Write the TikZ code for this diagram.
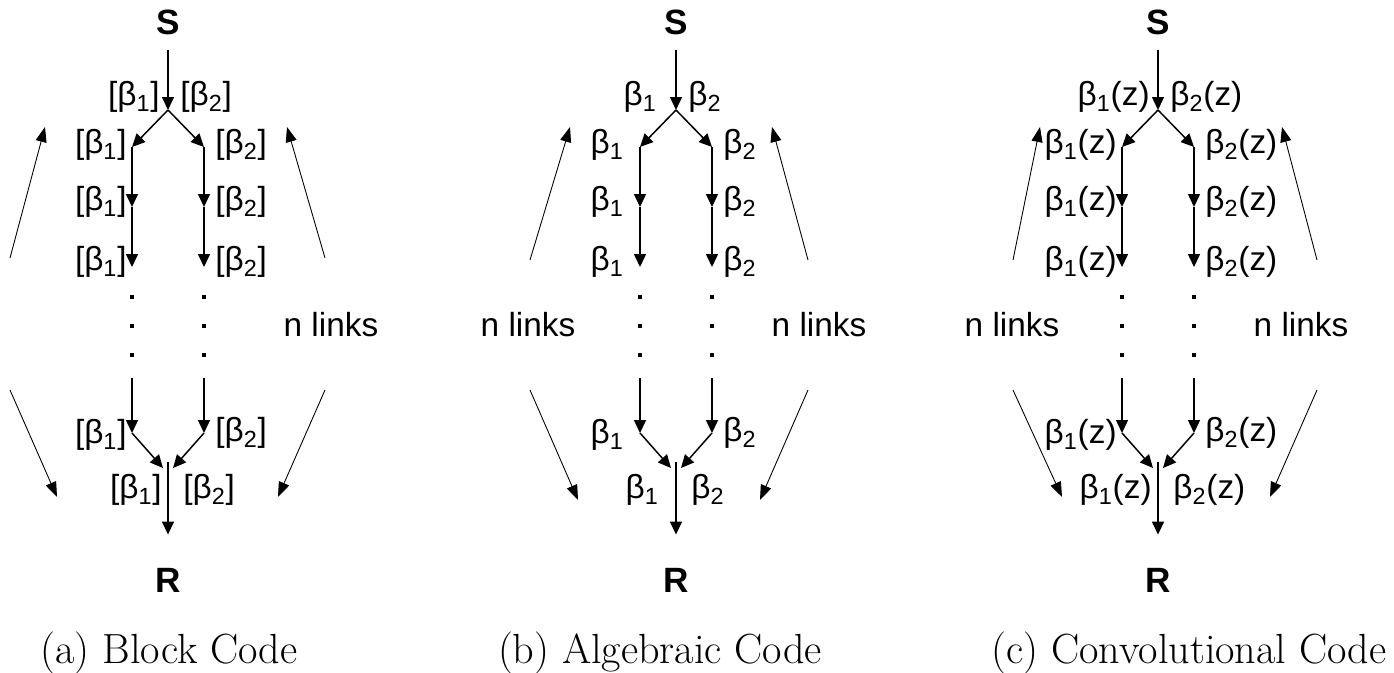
\documentclass[tikz,border=0pt]{standalone}
\usepackage{fontspec}
\setsansfont{Liberation Sans}
\usepackage{tikz}
\usetikzlibrary{arrows.meta}
\newcommand{\bone}{β\textsubscript{1}}
\newcommand{\btwo}{β\textsubscript{2}}
\tikzset{
  link/.style={-{Triangle[length=0.26cm,width=0.24cm]}, line width=0.85pt},
  side/.style={-{Triangle[length=0.3cm,width=0.22cm]}, line width=0.5pt},
  endnode/.style={font=\sffamily\bfseries\fontsize{20}{24}\selectfont, inner sep=0.3cm},
  coef/.style={font=\sffamily\fontsize{19}{23}\selectfont, inner sep=0pt},
  nlinks/.style={font=\sffamily\fontsize{19}{23}\selectfont, inner sep=0pt},
  dot/.style={fill, inner sep=0pt, minimum size=0.07cm},
  caption/.style={font=\fontsize{24}{28}\selectfont, anchor=base, inner sep=0pt},
}
\begin{document}
\begin{tikzpicture}[x=0.02cm, y=-0.02cm]
  \useasboundingbox (0,0) rectangle (1394,673);

  % The two branches S -> R, one per code
  \foreach \p/\cx/\one/\two/\gap in {a/168/{[\bone]}/{[\btwo]}/5,
                                     b/676/{\bone}/{\btwo}/16,
                                     c/1158/{\bone(z)}/{\btwo(z)}/5} {
    \begin{scope}[shift={(\cx,0)}]
      \node[endnode] (\p-S) at (0,22) {S};
      \node[endnode] (\p-R) at (0,580) {R};
      \coordinate (\p-fork) at (0,110);
      \coordinate (\p-join) at (0,462);
      \coordinate (\p-l1) at (-36,147);  \coordinate (\p-r1) at (36,147);
      \coordinate (\p-l2) at (-36,207);  \coordinate (\p-r2) at (36,207);
      \coordinate (\p-l3) at (-36,267);  \coordinate (\p-r3) at (36,267);
      \coordinate (\p-l4) at (-36,378);  \coordinate (\p-r4) at (36,378);
      \coordinate (\p-l5) at (-36,433);  \coordinate (\p-r5) at (36,433);
      \coordinate (\p-jl) at (-5,468);   \coordinate (\p-jr) at (5,468);

      \draw[link] (\p-S) -- (\p-fork);
      \draw[link] (\p-fork) -- (\p-l1);
      \draw[link] (\p-fork) -- (\p-r1);
      \draw[link] (\p-l1) -- (\p-l2);
      \draw[link] (\p-r1) -- (\p-r2);
      \draw[link] (\p-l2) -- (\p-l3);
      \draw[link] (\p-r2) -- (\p-r3);
      \draw[link] (\p-l4) -- (\p-l5);
      \draw[link] (\p-r4) -- (\p-r5);
      \draw[link] (\p-l5) -- (\p-jl);
      \draw[link] (\p-r5) -- (\p-jr);
      \draw[link, shorten >=0.36cm] (\p-join) -- (\p-R);

      % dots for the n links
      \foreach \y in {297,326,355} {
        \node[dot] (\p-dl\y) at (-36,\y) {};
        \node[dot] (\p-dr\y) at (36,\y) {};
      }

      % coefficients
      \node[coef, anchor=east] (\p-t1) at (-\gap-3,97) {\one};
      \node[coef, anchor=west] (\p-t2) at (12,97) {\two};
      \node[coef, anchor=east] (\p-a1) at (-36-\gap,145) {\one};
      \node[coef, anchor=west] (\p-a2) at (47,145) {\two};
      \node[coef, anchor=east] (\p-b1) at (-36-\gap,202) {\one};
      \node[coef, anchor=west] (\p-b2) at (47,202) {\two};
      \node[coef, anchor=east] (\p-c1) at (-36-\gap,262) {\one};
      \node[coef, anchor=west] (\p-c2) at (47,262) {\two};
      \node[coef, anchor=east] (\p-d1) at (-36-\gap,435) {\one};
      \node[coef, anchor=west] (\p-d2) at (47,433) {\two};
      \node[coef, anchor=east] (\p-e1) at (-1-\gap,490) {\one};
      \node[coef, anchor=west] (\p-e2) at (15,490) {\two};
    \end{scope}
  }

  % n links markers
  \node[nlinks] (a-nr) at (331,325) {n links};
  \node[nlinks] (b-nl) at (528,325) {n links};
  \node[nlinks] (b-nr) at (819,325) {n links};
  \node[nlinks] (c-nl) at (1012,325) {n links};
  \node[nlinks] (c-nr) at (1301,325) {n links};

  % side arrows
  \coordinate (a-ul0) at (10,258);    \coordinate (a-ul1) at (45,127);
  \coordinate (a-ur0) at (325,258);   \coordinate (a-ur1) at (287,127);
  \coordinate (a-dl0) at (10,390);    \coordinate (a-dl1) at (57,497);
  \coordinate (a-dr0) at (325,390);   \coordinate (a-dr1) at (278,497);
  \coordinate (b-ul0) at (530,260);   \coordinate (b-ul1) at (570,127);
  \coordinate (b-ur0) at (808,260);   \coordinate (b-ur1) at (772,127);
  \coordinate (b-dl0) at (530,390);   \coordinate (b-dl1) at (578,500);
  \coordinate (b-dr0) at (808,390);   \coordinate (b-dr1) at (760,500);
  \coordinate (c-ul0) at (1013,260);  \coordinate (c-ul1) at (1040,127);
  \coordinate (c-ur0) at (1317,260);  \coordinate (c-ur1) at (1282,127);
  \coordinate (c-dl0) at (1013,390);  \coordinate (c-dl1) at (1062,497);
  \coordinate (c-dr0) at (1317,390);  \coordinate (c-dr1) at (1270,497);
  \draw[side] (a-ul0) -- (a-ul1);
  \draw[side] (a-ur0) -- (a-ur1);
  \draw[side] (a-dl0) -- (a-dl1);
  \draw[side] (a-dr0) -- (a-dr1);
  \draw[side] (b-ul0) -- (b-ul1);
  \draw[side] (b-ur0) -- (b-ur1);
  \draw[side] (b-dl0) -- (b-dl1);
  \draw[side] (b-dr0) -- (b-dr1);
  \draw[side] (c-ul0) -- (c-ul1);
  \draw[side] (c-ur0) -- (c-ur1);
  \draw[side] (c-dl0) -- (c-dl1);
  \draw[side] (c-dr0) -- (c-dr1);

  % captions
  \node[caption] (a-cap) at (169,663) {(a) Block Code};
  \node[caption] (b-cap) at (660,663) {(b) Algebraic Code};
  \node[caption] (c-cap) at (1189,663) {(c) Convolutional Code};
\end{tikzpicture}
\end{document}
